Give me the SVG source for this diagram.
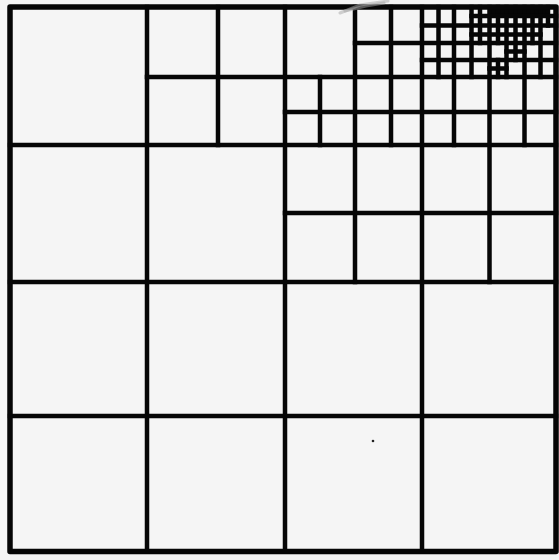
<svg xmlns="http://www.w3.org/2000/svg" width="559" height="560" viewBox="0 0 559 560">
<style>
.ln{stroke:#060606;stroke-width:4.5;stroke-linecap:square;fill:none}
.frame{stroke:#060606;stroke-width:5.5;fill:none;stroke-linejoin:round}
.smudge{stroke:#a8a8a8;stroke-width:3;fill:none;opacity:0.5;stroke-linecap:round}
</style>
<rect x="0" y="0" width="559" height="560" fill="#f5f5f5"/>
<g id="dense-cells">
<rect x="489.5" y="7" width="58.5" height="9" fill="#060606"/>
</g>
<g id="level-main" class="ln">
<path d="M147 7V551.5M285 7V551.5M422 7V551.5"/>
<path d="M10 145H556M10 282H556M10 416H556"/>
</g>
<g id="level-3" class="ln">
<path d="M218 7V145M147 77H556"/>
<path d="M355 7V282M489.5 7V282M285 213H556"/>
</g>
<g id="level-4" class="ln">
<path d="M391 7V145M320 77V145M355 43H556M285 112H556"/>
<path d="M454 7V145M524.5 7V145"/>
</g>
<g id="level-5" class="ln">
<path d="M438.5 7V77M471.5 7V77M506.5 7V77M540.5 7V77"/>
<path d="M422 25.5H556M422 60H556"/>
</g>
<g id="level-6" class="ln">
<path d="M480 7V43M498 7V43M515.5 7V60M532.5 7V43M548 7V25.5"/>
<path d="M471.5 16H556M471.5 34.5H540.5"/>
<path d="M506.5 51.5H524.5M498 60V77M489.5 68.5H506.5"/>
</g>
<g id="border">
<rect class="frame" x="10" y="7" width="546" height="544.5"/>
</g>
<g id="artifacts">
<path class="smudge" d="M340 13L360 5L388 1"/>
<path class="smudge" d="M345 11L366 6L384 3"/>
<circle cx="373" cy="441" r="1.3" fill="#222"/>
</g>
</svg>
